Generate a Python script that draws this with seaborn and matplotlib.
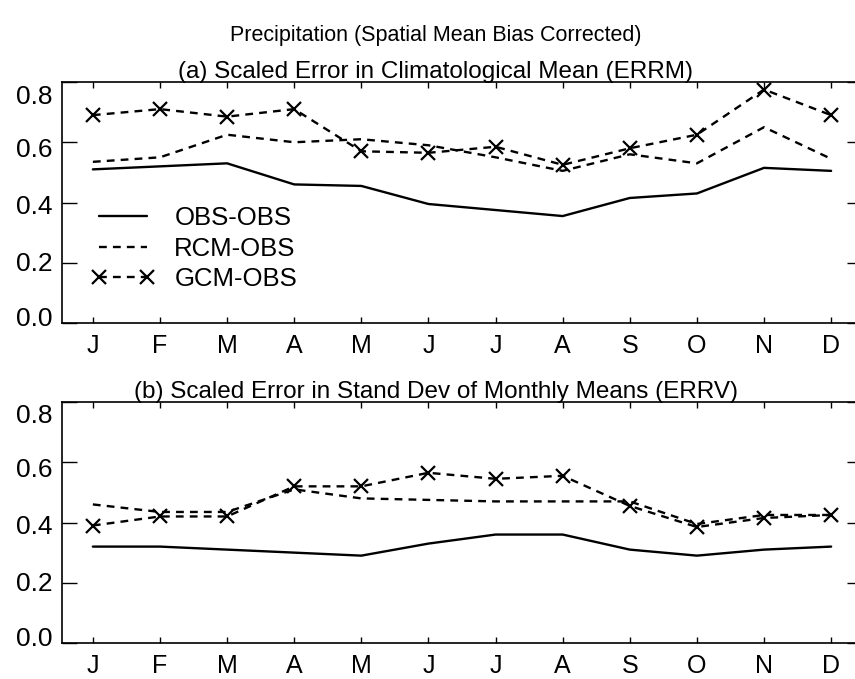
import numpy as np
import matplotlib
matplotlib.use('Agg')
import matplotlib.pyplot as plt
from matplotlib.transforms import ScaledTranslation
import seaborn as sns

# ── Datos ─────────────────────────────────────────────
meses = ['J', 'F', 'M', 'A', 'M', 'J', 'J', 'A', 'S', 'O', 'N', 'D']

# (a) ERRM
errm_obs = [0.51, 0.52, 0.53, 0.46, 0.455, 0.395, 0.375, 0.355, 0.415, 0.43, 0.515, 0.505]
errm_rcm = [0.535, 0.55, 0.625, 0.60, 0.61, 0.59, 0.55, 0.505, 0.56, 0.53, 0.65, 0.545]
errm_gcm = [0.69, 0.71, 0.685, 0.71, 0.57, 0.565, 0.585, 0.525, 0.58, 0.625, 0.775, 0.69]

# (b) ERRV
errv_obs = [0.32, 0.32, 0.31, 0.30, 0.29, 0.33, 0.36, 0.36, 0.31, 0.29, 0.31, 0.32]
errv_rcm = [0.46, 0.435, 0.435, 0.51, 0.48, 0.475, 0.47, 0.47, 0.47, 0.395, 0.425, 0.425]
errv_gcm = [0.39, 0.42, 0.42, 0.52, 0.52, 0.565, 0.545, 0.555, 0.455, 0.385, 0.415, 0.425]

yticks = [0.0, 0.2, 0.4, 0.6, 0.8]
ytick_labels = ['0.0', '0.2', '0.4', '0.6', '0.8']

titulo = 'Precipitation (Spatial Mean Bias Corrected)'
titulo_a = '(a) Scaled Error in Climatological Mean (ERRM)'
titulo_b = '(b) Scaled Error in Stand Dev of Monthly Means (ERRV)'

# ── Estilo ────────────────────────────────────────────
sns.set_theme(style='ticks')
plt.rcParams['font.family'] = ['Liberation Sans', 'DejaVu Sans']
plt.rcParams['text.color'] = 'black'

fig = plt.figure(figsize=(8.55, 6.79), dpi=100)
ax_a = fig.add_axes([62 / 855, 1 - 323 / 679, 800 / 855, 241 / 679])
ax_b = fig.add_axes([62 / 855, 1 - 643 / 679, 800 / 855, 241 / 679])

x = np.arange(len(meses))


def panel(ax, obs, rcm, gcm, titulo_panel, leyenda=False):
    sns.lineplot(x=x, y=obs, ax=ax, color='black', lw=1.7, label='OBS-OBS')
    sns.lineplot(x=x, y=rcm, ax=ax, color='black', lw=1.7, label='RCM-OBS')
    sns.lineplot(x=x, y=gcm, ax=ax, color='black', lw=1.7,
                 marker='x', markersize=10, markeredgewidth=1.6,
                 markeredgecolor='black', label='GCM-OBS')
    lineas = ax.get_lines()
    lineas[1].set_dashes([3.3, 2.6])
    lineas[2].set_dashes([3.3, 2.6])

    ax.set_xlim(-0.46, 11.46)
    ax.set_ylim(0, 0.8)
    ax.set_xticks(x)
    ax.set_xticklabels(meses)
    ax.set_yticks(yticks)
    ax.set_yticklabels(ytick_labels)
    ax.tick_params(axis='y', direction='in', length=11, width=1,
                   labelsize=19, pad=7, right=True, colors='black')
    ax.tick_params(axis='x', direction='in', length=4, width=1,
                   labelsize=18, pad=8, top=True, colors='black')
    for s in ax.spines.values():
        s.set_linewidth(1.2)
        s.set_color('black')
    # el título va centrado en la parte visible de la figura
    ax.set_title(titulo_panel, fontsize=17.5, pad=3, color='black', x=0.4675)
    ax.set_xlabel('')
    ax.set_ylabel('')

    # etiquetas del eje y algo comprimidas hacia el centro (como el original)
    desplaz = [-7, -1, 2, 5, 12]
    for lbl, dy in zip(ax.get_yticklabels(), desplaz):
        lbl.set_transform(lbl.get_transform() +
                          ScaledTranslation(0, -dy / 100, fig.dpi_scale_trans))

    if leyenda:
        ax.legend(loc='upper left', bbox_to_anchor=(0.036, 0.485),
                  frameon=False, fontsize=18.5, handlelength=2.5,
                  handletextpad=0.75, labelspacing=0.26, numpoints=2,
                  borderpad=0, borderaxespad=0)
    elif ax.get_legend() is not None:
        ax.get_legend().remove()


panel(ax_a, errm_obs, errm_rcm, errm_gcm, titulo_a, leyenda=True)
panel(ax_b, errv_obs, errv_rcm, errv_gcm, titulo_b)

fig.text(0.51, 1 - 36 / 679, titulo, ha='center', va='center', fontsize=15.5)

plt.savefig('out.png', dpi=100)
plt.close()
